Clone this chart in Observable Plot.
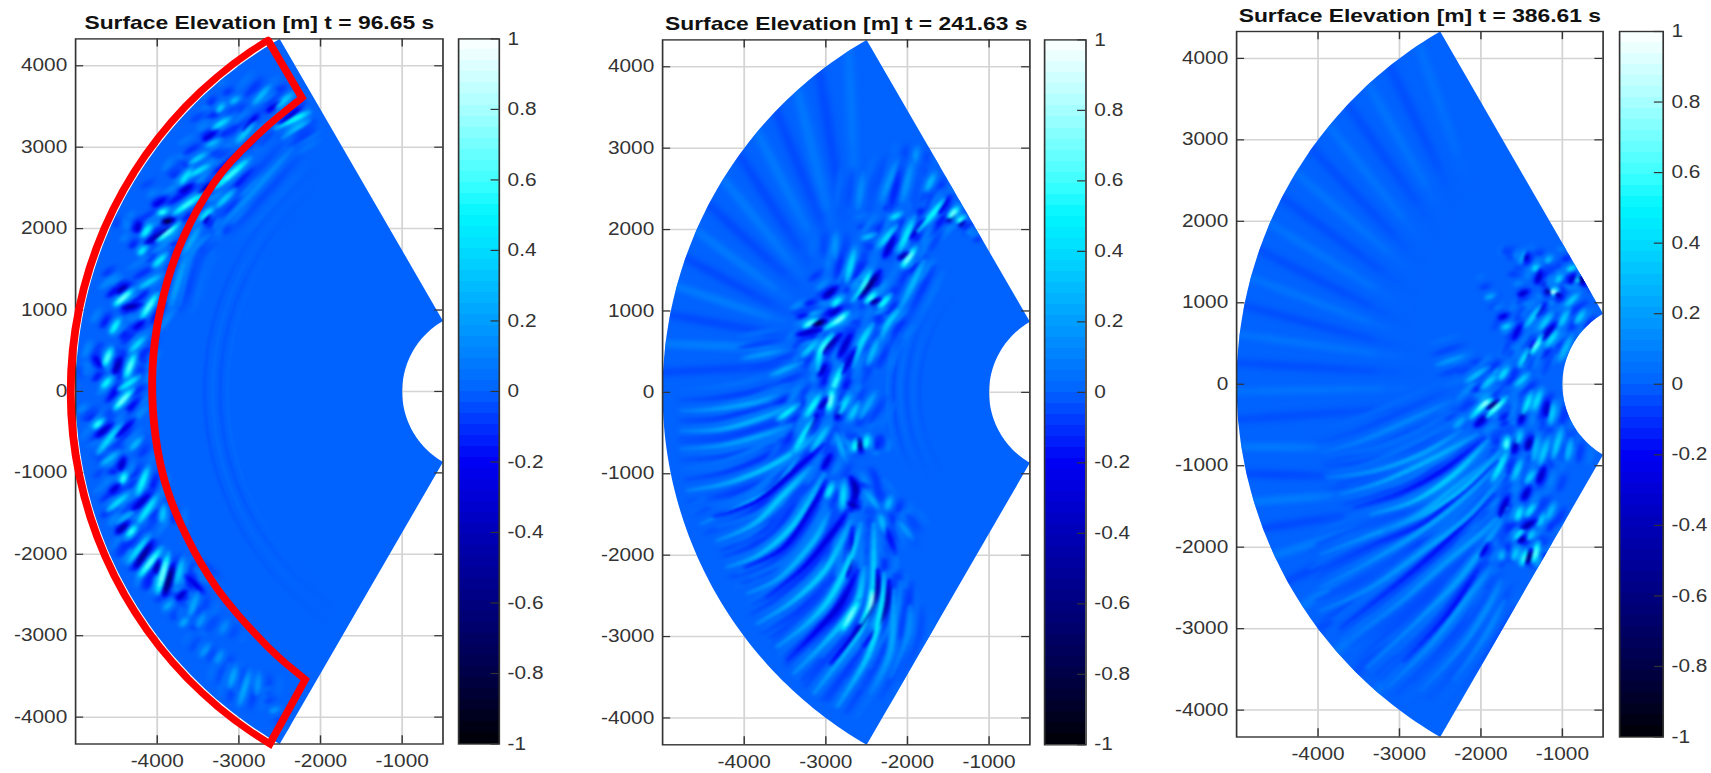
<!DOCTYPE html>
<html><head><meta charset="utf-8">
<style>html,body{margin:0;padding:0;background:#fff;overflow:hidden}#page{position:relative;width:1711px;height:773px}</style>
<script src="https://cdn.jsdelivr.net/npm/d3@7"></script>
<script src="https://cdn.jsdelivr.net/npm/@observablehq/plot@0.6"></script>
</head><body><div id="page"></div>
<script>
const titles = ["Surface Elevation [m] t = 96.65 s","Surface Elevation [m] t = 241.63 s","Surface Elevation [m] t = 386.61 s"];
const xTicks = [-4000,-3000,-2000,-1000];
const yTicks = [-4000,-3000,-2000,-1000,0,1000,2000,3000,4000];
const cbTicks = [-1,-0.8,-0.6,-0.4,-0.2,0,0.2,0.4,0.6,0.8,1];
const cmapValues = [-1,-0.8,-0.6,-0.4,-0.2,-0.1,0,0.1,0.2,0.3,0.4,0.5,0.6,0.8,1];
const cmapColors = ["#000005","#000048","#000080","#0000b8","#0000f5","#0030ff","#0062ff","#0080ff","#009eff","#00bcff","#00dcff","#00f6ff","#40ffff","#a8ffff","#ffffff"];

// each row: amplitude [m], then x,y,x,y,... along the crest or trough, in metres
const p1Crests = [
[.55,-3960,1880,-3760,2045],[.45,-4165,1925,-4080,2045],[.5,-3960,2190,-3880,2230],[.5,-3755,2210,-3470,2410],[.4,-4205,1700,-4145,1780],[.4,-4020,1555,-3900,1680],[.6,-4490,1085,-4325,1230],[.55,-4165,945,-4020,1170],[.3,-4185,1290,-3980,1415],[.45,-4550,740,-4470,880],[.55,-4635,350,-4570,515],[.55,-4370,210,-4285,435],[.45,-4655,65,-4570,170],[.35,-4305,515,-4165,660],[.4,-4430,45,-4245,170],[.4,-3695,2575,-3590,2720],[.35,-3590,2655,-3370,2780],[.3,-3570,2820,-3410,2920],[.35,-3285,3250,-3125,3350],[.3,-3245,3455,-3185,3535],[.25,-3080,3555,-3000,3615],[.3,-3000,3085,-2840,3270],[.25,-3370,3025,-3245,3085],[.25,-2795,3555,-2635,3740],[.3,-2510,3515,-2350,3655],[.45,-2552,3228,-2348,3330,-2144,3432],[.25,-2470,3106,-2307,3228,-2144,3330],[.5,-3246,2535,-2919,2820],[.4,-3450,2127,-3327,2249],[.3,-3246,2290,-3082,2453],[.12,-3246,2025,-3082,2168,-2715,2576,-2348,2984],[.2,-3654,1719,-3490,2004],[.18,-3817,1107,-3654,1637],[.1,-3735,1066,-3592,1678,-3368,1923],
[.6,-4490,-184,-4327,0],[.5,-4755,-429,-4674,-348],[.35,-4694,-716,-4470,-429],[.25,-4653,-879,-4490,-757],[.25,-4306,-695,-4204,-573],[.5,-4429,-1104,-4388,-1002],[.45,-4225,-1227,-4123,-961],[.35,-4572,-1432,-4368,-1268],[.2,-4470,-1595,-4286,-1472],[.4,-4204,-1575,-4021,-1309],[.5,-4347,-1759,-4266,-1656],[.35,-4327,-2065,-4123,-1800],[.55,-4184,-2229,-3980,-1963],[.6,-3980,-2413,-3878,-2045],[.3,-3939,-1575,-3919,-1411],[.3,-3756,-2331,-3694,-2086],[.2,-3592,-2720,-3511,-2495],[.2,-3898,-2659,-3817,-2577],[.2,-3694,-2863,-3633,-2781],[.15,-3490,-2863,-3429,-2740],[.15,-3450,-3231,-3368,-3108],[.15,-3266,-3313,-3205,-3190],[.2,-3103,-3599,-3042,-3395],[.2,-2980,-3804,-2878,-3477],[.15,-2776,-3681,-2756,-3477],[.15,-2593,-3926,-2511,-3886],[.12,-3205,-2945,-3144,-2822]];
const p1Troughs = [
[-.95,-3900,2085,-3815,2105],[-.5,-4102,1841,-3837,2025],[-.4,-4245,1984,-4225,2086],[-.5,-4388,1025,-4225,1066],[-.5,-4470,1229,-4368,1311],[-.5,-3450,2453,-3286,2576],[-.4,-3409,2086,-3368,2168],[-.3,-4021,2290,-3898,2372],[-.5,-4510,250,-4449,413],[-.35,-3409,3106,-3286,3188],[-.4,-3694,2453,-3572,2535],[-.3,-4266,780,-4164,862],[-.3,-4755,413,-4694,291],[-.3,-2919,3228,-2776,3392],[-.3,-2634,3453,-2491,3555],[-.35,-2470,3310,-2266,3473],
[-.4,-4714,-532,-4572,-409],[-.4,-4449,-941,-4408,-818],[-.6,-4245,-2127,-4082,-1881],[-.5,-4021,-2209,-3980,-2086],[-.75,-3898,-2454,-3817,-2168],[-.5,-4470,-1718,-4368,-1616],[-.35,-4551,-1227,-4470,-1145],[-.4,-3735,-2536,-3654,-2454],[-.4,-4266,-1432,-4102,-1268],[-.3,-3613,-2290,-3450,-2454],[-.3,-4470,-532,-4306,-368]];
const p2Crests = [
[.55,-3244,817,-3122,898],[.6,-3020,776,-2857,878,-2734,980],[.45,-2898,1082,-2816,1164],[.5,-2673,1123,-2551,1286,-2449,1490],[.5,-2490,1123,-2388,1225],[.45,-2326,1062,-2224,1184],[.6,-2041,1572,-1918,1755],[.35,-2734,1408,-2653,1735],[.25,-2530,1898,-2408,1939],[.35,-2326,1816,-2163,2020],[.35,-2184,2143,-2082,2204],[.4,-2082,1776,-1939,2102],[.45,-1878,1980,-1714,2163,-1551,2367],[.6,-1470,2163,-1388,2265],[.5,-1368,2102,-1306,2163],[.5,-3102,266,-3061,511,-2918,715],[.3,-3265,470,-3102,633],[.5,-2938,-20,-2816,286],[.35,-2653,307,-2571,592,-2428,837],[.3,-2326,633,-2245,837,-2082,1041],[.25,-2469,388,-2367,633],[.25,-2122,960,-1959,1286,-1796,1612],[.25,-1755,2510,-1674,2673],[.15,-1918,2836,-1878,3000],[.15,-2898,1694,-2877,1939],[.2,-3632,225,-3346,348],[.15,-3958,429,-3550,511],[.15,-2300,2400,-2150,2800],[.15,-2050,2400,-1950,2800],[.12,-2600,2300,-2550,2650],
[.18,-4775,-228,-4367,-207,-3877,-126,-3592,-24],[.22,-4775,-473,-4285,-452,-3837,-330,-3367,-146],[.4,-3551,-309,-3367,-167],[.18,-4775,-697,-4285,-656,-3796,-534,-3429,-411],[.28,-4693,-1207,-4245,-1125,-3796,-962,-3429,-758,-3102,-513],[.22,-4530,-1615,-4081,-1411,-3633,-1166,-3347,-799],[.3,-4326,-1819,-3877,-1615,-3510,-1248,-3184,-921],[.3,-4204,-2145,-3796,-1982,-3388,-1615,-3021,-1003],[.25,-3959,-2472,-3551,-2268,-3143,-1819,-2980,-1493],[.3,-3837,-2839,-3388,-2553,-2980,-2145,-2694,-1574],[.35,-3592,-3125,-3225,-2839,-2939,-2513,-2694,-2023,-2572,-1615],[.35,-3388,-3451,-3021,-3084,-2694,-2717,-2592,-2513,-2531,-2145],[.6,-2776,-2880,-2613,-2594],[.4,-3143,-3696,-2735,-3165,-2531,-2839,-2429,-2431,-2409,-1615],[.65,-2572,-2839,-2449,-2594,-2429,-2390],[.4,-2857,-3859,-2490,-3247,-2327,-2676,-2286,-2227],[.2,-2449,-3696,-2205,-3165,-2164,-2431],[.12,-2205,-3492,-2001,-3002,-1960,-2635],
[.45,-3225,-269,-3082,-44],[.6,-2959,-187,-2919,17],[.35,-2817,-228,-2715,-44],[.4,-3367,-697,-3184,-371],[.3,-3143,-677,-2980,-432],[.4,-2980,-1268,-2919,-1125],[.35,-2796,-1391,-2776,-1125],[.45,-2653,-697,-2633,-595],[.45,-2511,-656,-2490,-534],[.3,-2694,-309,-2613,-146],[.2,-2551,-269,-2409,-24],[.25,-2327,-1533,-2286,-1697],[.25,-2245,-1411,-2205,-1289],[.2,-2490,-1248,-2368,-1411],[.15,-2082,-1615,-1960,-1778],[.2,-2857,-554,-2775,-799]];
const p2Troughs = [
[-.9,-3122,837,-3020,878],[-.7,-2551,1204,-2367,1449],[-.6,-2428,1102,-2347,1143],[-.4,-2938,960,-2816,1041],[-.5,-2082,1653,-2000,1714],[-.6,-1490,2122,-1429,2204],[-.5,-1347,2061,-1306,2102],[-.5,-3000,1184,-2877,1286],[-.4,-2265,1694,-2163,1918],[-.5,-3020,470,-2979,551,-2816,715],[-.4,-3306,715,-3061,776],[-.4,-2816,470,-2694,715],[-.35,-2775,266,-2653,511],[-.35,-1939,1918,-1816,2102],[-.3,-1592,2224,-1490,2388],[-.4,-3061,225,-3000,348],[-.15,-2200,2300,-2100,2700],
[-.35,-3469,-3288,-3102,-2921,-2817,-2594,-2613,-2186],[-.55,-2939,-3329,-2613,-2921,-2388,-2513,-2368,-2186],[-.5,-2531,-3125,-2286,-2717,-2225,-2309],[-.3,-3714,-2513,-3265,-2145,-2898,-1697,-2735,-1452],[-.3,-3980,-2145,-3510,-1901,-3143,-1370,-3000,-1085],[-.3,-4367,-1533,-3837,-1329,-3388,-962,-3021,-636],[-.5,-2694,-1452,-2633,-1207,-2694,-1044],[-.4,-3061,-187,-2980,-65],[-.4,-2857,-309,-2817,-187],[-.4,-2674,-1656,-2694,-2023,-2735,-2268],[-.6,-2592,-595,-2572,-717],[-.4,-3245,-513,-3102,-269],[-.35,-3021,-921,-2939,-758],[-.5,-2694,-1370,-2613,-1411],[-.2,-2245,-1697,-2164,-1941]];
const p3Crests = [
[.65,-2122,-410,-1959,-246,-1877,-185],[.55,-1898,-369,-1713,-185],[.2,-2307,-512,-2204,-410],[.1,-3963,-839,-3472,-696,-2900,-451,-2368,-205],[.18,-3881,-1146,-3309,-1064,-2736,-860,-2245,-574],[.22,-3718,-1351,-3186,-1187,-2572,-901,-2041,-614],[.3,-3350,-1596,-2818,-1432,-2327,-1105,-1918,-696],[.25,-3186,-1800,-2695,-1596,-2204,-1269,-1713,-778],[.2,-3963,-2087,-3431,-1882,-2818,-1637,-2327,-1269,-1836,-901],[.18,-3963,-2496,-3350,-2169,-2736,-1801,-2204,-1392,-1795,-983],[.18,-3963,-2782,-3350,-2496,-2654,-2005,-2122,-1596,-1713,-1105],[.16,-3636,-3150,-3022,-2700,-2409,-2169,-1959,-1800,-1673,-1514],[.18,-3390,-3477,-2777,-2905,-2286,-2414,-1918,-1923,-1713,-1596],[.15,-3145,-3723,-2613,-3191,-2163,-2619,-1877,-2250],[.12,-2736,-3764,-2245,-3232,-1918,-2741,-1754,-2414],[.1,-2327,-3641,-1959,-3109,-1713,-2659],
[.5,-1488,-2189,-1448,-2046],[.55,-1345,-2148,-1304,-1964],[.3,-1591,-2128,-1550,-2005],[.3,-1407,-1882,-1345,-1800],[.4,-1550,-1637,-1509,-1514],[.35,-1427,-1596,-1345,-1473],[.3,-1284,-1719,-1223,-1596],[.35,-1570,-1882,-1468,-1760],[.25,-1754,-2128,-1734,-2046],[.25,-1182,-1637,-1100,-1473],[.3,-1427,-1187,-1345,-1064],[.55,-1693,-778,-1673,-655],[.4,-1836,-1146,-1693,-860],[.3,-1550,-696,-1509,-574],[.4,-1468,-328,-1386,-124],[.35,-1345,-287,-1264,-83],[.3,-1141,-451,-1100,-246],[.3,-1264,-942,-1182,-696],[.3,-1100,-860,-1018,-574],[.25,-1345,-901,-1304,-655],[.3,-1591,-1146,-1509,-942],[.25,-936,-901,-895,-696],
[.55,-1366,408,-1264,572],[.35,-1182,490,-1059,653],[.35,-1509,244,-1427,408],[.35,-1754,81,-1673,204],[.3,-1714,694,-1632,735],[.3,-1427,735,-1284,940],[.3,-1264,694,-1141,858],[.3,-1018,735,-936,899],[.75,-1120,1124,-1079,1165],[.35,-1345,1410,-1304,1472],[.3,-936,981,-814,1103],[.35,-814,1267,-773,1349],[.3,-1059,1267,-1018,1349],[.35,-916,1410,-834,1451],[.2,-1918,1063,-1836,1103],[.2,-1509,1512,-1468,1635],[.25,-1182,1512,-1141,1574],[.3,-1550,0,-1427,122],[.25,-1018,326,-895,572],[.3,-814,776,-732,899],[.3,-1877,40,-1795,163],[.3,-1960,-30,-1830,110],[.25,-2150,50,-1950,190],[.15,-2500,250,-2200,350]];
const p3Troughs = [
[-.7,-1898,-287,-1795,-205],[-.4,-2041,-492,-1918,-369],[-.7,-1427,-2169,-1386,-2046],[-.5,-1509,-1923,-1460,-1874],[-.4,-1284,-1187,-1223,-1023],[-.5,-1468,-1760,-1345,-1678],[-.4,-1509,-451,-1427,-205],[-.4,-1591,-819,-1550,-655],[-.5,-1427,-778,-1386,-655],[-.4,-1202,-369,-1182,-205],[-.4,-1754,-1596,-1673,-1391],[-.3,-1990,-2087,-1918,-1964],[-.4,-1468,-1391,-1407,-1269],[-.2,-3554,-1514,-2981,-1330,-2450,-1044,-1959,-655],[-.15,-3963,-2291,-3309,-1964,-2736,-1719,-2204,-1310,-1795,-942],[-.2,-3718,-2987,-2981,-2414,-2327,-1841,-1836,-1351],[-.2,-2941,-3395,-2409,-2823,-2000,-2209],
[-.6,-1182,1144,-1161,1103],[-.5,-1059,1103,-1018,1063],[-.4,-1304,1267,-1264,1390],[-.6,-773,1308,-732,1226],[-.4,-1448,1533,-1427,1594],[-.4,-1509,1103,-1427,1144],[-.4,-1223,572,-1100,735],[-.35,-1468,285,-1345,531],[-.3,-1754,817,-1673,858],[-.4,-895,1267,-855,1349],[-.35,-1304,858,-1223,981],[-.3,-1591,572,-1509,735]];
// faint bands running from the rim toward the wave packet: amplitude, rim x,y, inner x,y
const p1Bands = [];
const p2Bands = [[.07,-2712,4021,-2650,2600],[-.05,-3052,3769,-2800,2200],[.08,-3308,3547,-2950,2100],[-.05,-3547,3308,-3000,1950],[.08,-3769,3052,-3150,1850],[-.05,-3973,2782,-3250,1650],[.08,-4157,2498,-3350,1500],[-.05,-4321,2202,-3400,1350],[.08,-4464,1895,-3500,1180],[-.05,-4586,1579,-3550,1020],[.09,-4685,1255,-3550,880],[-.05,-4761,925,-3500,700],[.1,-4814,591,-3500,540],[-.05,-4843,254,-3400,330]];
const p3Bands = [[.05,-2712,4021,-2250,2700],[-.04,-3052,3769,-2450,2500],[.06,-3308,3547,-2600,2300],[-.04,-3547,3308,-2700,2100],[.06,-3769,3052,-2850,1900],[-.04,-3973,2782,-2950,1700],[.06,-4157,2498,-3000,1500],[-.04,-4321,2202,-3100,1300],[.06,-4464,1895,-3150,1080],[-.04,-4586,1579,-3200,880],[.06,-4685,1255,-3200,700],[-.04,-4761,925,-3150,500],[.06,-4814,591,-3100,350],[-.04,-4843,254,-3100,150],[.06,-4849,-85,-3000,-50],[-.04,-4831,-423,-3100,-300],
[.08,-4840,-767,-3900,-780],[-.05,-4775,-1102,-3800,-1130],[.09,-4686,-1433,-3700,-1360],[-.05,-4575,-1755,-3600,-1600],[.09,-4440,-2071,-3500,-1780],[-.05,-4285,-2376,-3400,-1950],[.09,-4110,-2668,-3300,-2100],[-.05,-3914,-2948,-3200,-2350],[.08,-3700,-3213,-3100,-2620],[-.04,-3465,-3465,-2900,-2800],[.07,-3215,-3700,-2750,-3050]];
// thin concentric ripples: radius, bearing from, bearing to, amplitude
const p1Ripples = [[3140,-50,45,.03],[3230,-55,50,-.03],[3320,-55,55,.04],[3420,-55,55,-.03]];
const p2Ripples = [[2250,-25,30,.06],[2170,-25,30,-.05],[2090,-25,35,.05],[2010,-30,35,-.03],[1930,-30,38,.03],[1850,-30,40,-.02]];
const p3Ripples = [[1350,-48,-30,.08],[1270,-48,-28,-.06],[1190,-48,-26,.08],[1110,-48,-24,-.05]];
// red outline drawn on the first panel
const redOuterRadius = 5060, redOuterFrom = 58.5, redOuterTo = -58.8;
const redInner = [-2187,-3538,-2655,-3127,-3260,-2430,-3705,-1645,-3960,-900,-4061,-41,-4000,806,-3755,1714,-3307,2560,-2760,3160,-2227,3607];

const stretch = 1.19;
const panels = [
 {left:75.3, right:442.7, top:38.4, bottom:743.5, cb:[458.3,499], crests:p1Crests, troughs:p1Troughs, bands:p1Bands, ripples:p1Ripples, red:true},
 {left:662, right:1029.3, top:39.4, bottom:744.3, cb:[1044.3,1085.7], crests:p2Crests, troughs:p2Troughs, bands:p2Bands, ripples:p2Ripples},
 {left:1235.5, right:1602, top:31, bottom:736.5, cb:[1619.4,1663], crests:p3Crests, troughs:p3Troughs, bands:p3Bands, ripples:p3Ripples}
];
const rad = d => d*Math.PI/180;
const polar = (r,a) => [-r*Math.cos(rad(a)), r*Math.sin(rad(a))];
const colorOpt = {type:"linear", domain:cmapValues, range:cmapColors, interpolate:"rgb", clamp:true};
const ink = "#333";
const font = {fontFamily:"Liberation Sans, Arial, sans-serif",fontSize:"17.5px",background:"transparent",overflow:"visible"};
const page = document.getElementById("page");

function place(svg, x0, x1){
  svg.setAttribute("preserveAspectRatio","none");
  svg.setAttribute("width", x1-x0); svg.setAttribute("height",773);
  Object.assign(svg.style,{position:"absolute",left:x0+"px",top:"0px",width:(x1-x0)+"px",height:"773px",maxWidth:"none",background:"transparent",overflow:"visible"});
  page.appendChild(svg);
}
// smooth a row's vertices (Catmull-Rom) so a crest can be painted as a tapered stroke
function smooth(flat, perSpan){
  let P=[]; for(let k=0;k<flat.length;k+=2)P.push([flat[k],flat[k+1]]);
  if(P.length===2){ // short blob: run a little past both read ends
    const [a,b]=P, dx=(b[0]-a[0])*.18, dy=(b[1]-a[1])*.18;
    P=[[a[0]-dx,a[1]-dy],[b[0]+dx,b[1]+dy]];
  }
  const out=[];
  for(let i=0;i<P.length-1;i++){
    const p0=P[Math.max(i-1,0)],p1=P[i],p2=P[i+1],p3=P[Math.min(i+2,P.length-1)];
    for(let s=0;s<perSpan;s++){
      const t=s/perSpan,t2=t*t,t3=t2*t;
      out.push([0,1].map(c=>.5*(2*p1[c]+(p2[c]-p0[c])*t+(2*p0[c]-5*p1[c]+4*p2[c]-p3[c])*t2+(3*p1[c]-p0[c]-3*p2[c]+p3[c])*t3)));
    }
  }
  out.push(P[P.length-1]);
  return out;
}
function taper(t,isLong){
  return isLong ? .3+.7*Math.pow(Math.sin(Math.PI*Math.pow(t,1.5)),.8) : Math.pow(Math.sin(Math.PI*t),.7);
}
// paint a row as short links whose amplitude and width swell toward the middle
function segments(row, offset, gain, isBand){
  const isLong=row.length>5, pts=smooth(row.slice(1),isLong?7:8), n=pts.length-1, out=[];
  const shift=pts.map((p,i)=>{
    const a=pts[Math.max(i-1,0)],b=pts[Math.min(i+1,n)];
    const dx=b[0]-a[0],dy=b[1]-a[1],L=Math.hypot(dx,dy)||1;
    return [p[0]-dy/L*offset,p[1]+dx/L*offset];
  });
  for(let i=0;i<n;i++){
    const t=(i+.5)/n,e=isBand?Math.pow(Math.sin(Math.PI*Math.min(1,t*.6+.25)),1)*Math.min(1,(1-t)*3):taper(t,isLong);
    out.push({x1:shift[i][0],y1:shift[i][1],x2:shift[i+1][0],y2:shift[i+1][1],a:row[0]*gain*e,e});
  }
  return out;
}
const tone = r => [r[0]>0 ? r[0]*1.15 : r[0]*.85, ...r.slice(1)];
panels.forEach((p,n)=>{
  const leftPad=70, x0=p.left-leftPad, x1=p.right+6;
  const fan=[...d3.range(-60,60.5,1).map(a=>polar(5000,a)),...d3.range(60,-60.5,-1).map(a=>polar(1000,a))].map(([x,y])=>({x,y}));
  const bands=p.bands.flatMap(r=>segments(r,0,1,true));
  const ripples=p.ripples.flatMap(d=>{
    const pts=d3.range(d[1],d[2]+1,3).map(a=>polar(d[0],a));
    return d3.pairs(pts).map(([a,b],i)=>({x1:a[0],y1:a[1],x2:b[0],y2:b[1],a:d[3]*Math.sin(Math.PI*(i+.5)/(pts.length-1))}));
  });
  const all=[...p.crests,...p.troughs].map(tone);
  // each read crest carries its neighbouring trough and faint next crest on both sides
  const lobes=all.filter(r=>Math.abs(r[0])>=.1).flatMap(r=>[
    ...segments(r,270,.2),...segments(r,-270,.2),
    ...segments(r,135,-.3),...segments(r,-135,-.3)]);
  const core=all.slice().sort((a,b)=>Math.abs(a[0])-Math.abs(b[0])).flatMap(r=>segments(r,0,1));
  const layer=(data,width,blur,gain=1)=>Plot.link(data,{x1:"x1",y1:"y1",x2:"x2",y2:"y2",stroke:d=>d.a*gain,strokeWidth:d=>width*(.45+.55*(d.e??1)),strokeLinecap:"round",imageFilter:`blur(${blur}px)`});
  const marks=[
    Plot.gridX(xTicks,{stroke:"#d4d4d4",strokeOpacity:1,strokeWidth:1.5}),
    Plot.gridY(yTicks,{stroke:"#d4d4d4",strokeOpacity:1,strokeWidth:1.5}),
    Plot.line(fan,{x:"x",y:"y",fill:()=>0,stroke:"none"}),
    layer(bands,8,2.6),
    layer(ripples,2,.8),
    layer(lobes,5.5,1.6),
    layer(core,7.5,2,.55),
    layer(core,3.8,1.3),
    Plot.frame({stroke:ink,strokeWidth:1.4}),
    Plot.ruleY(yTicks,{x1:-5000,x2:-4900,stroke:ink,strokeWidth:1.2}),
    Plot.ruleY(yTicks,{x1:-500,x2:-600,stroke:ink,strokeWidth:1.2}),
    Plot.ruleX(xTicks,{y1:-4330,y2:-4230,stroke:ink,strokeWidth:1.2}),
    Plot.ruleX(xTicks,{y1:4330,y2:4230,stroke:ink,strokeWidth:1.2}),
    Plot.axisX(xTicks,{anchor:"bottom",label:null,tickSize:0,tickPadding:11,tickFormat:d=>String(d),color:ink}),
    Plot.axisY(yTicks,{anchor:"left",label:null,tickSize:0,tickPadding:7,tickFormat:d=>String(d),color:ink}),
    Plot.text([titles[n]],{frameAnchor:"top",dy:-16,lineAnchor:"middle",fontWeight:"bold",fontSize:19.2,fill:"#111"})
  ];
  if(p.red){
    const outer=d3.range(redOuterFrom,redOuterTo-.1,-(redOuterFrom-redOuterTo)/40).map(a=>polar(redOuterRadius,a));
    const red=[...outer,...smooth(redInner,5),outer[0]].map(([x,y])=>({x,y}));
    marks.push(Plot.line(red,{x:"x",y:"y",stroke:"#ff0000",strokeWidth:6.6,strokeLinejoin:"miter",strokeMiterlimit:8}));
  }
  const svg=Plot.plot({
    width:(x1-x0)/stretch, height:773,
    marginLeft:leftPad/stretch, marginRight:6/stretch, marginTop:p.top, marginBottom:773-p.bottom,
    x:{domain:[-5000,-500],axis:null}, y:{domain:[-4330,4330],axis:null}, color:colorOpt,
    style:font, marks
  });
  place(svg,x0,x1);
  // the waves stay inside the fan, as in a pcolor of the domain
  const ns="http://www.w3.org/2000/svg";
  const fanG=svg.querySelector('g[aria-label="line"]');
  const cp=document.createElementNS(ns,"clipPath"); cp.setAttribute("id","fanclip"+n);
  const shape=fanG.querySelector("path").cloneNode(false);
  const tr=fanG.getAttribute("transform"); if(tr) shape.setAttribute("transform",tr);
  cp.appendChild(shape); svg.appendChild(cp);
  svg.querySelectorAll('g[aria-label="link"]').forEach(g=>{
    const wrap=document.createElementNS(ns,"g"); wrap.setAttribute("clip-path","url(#fanclip"+n+")");
    g.parentNode.insertBefore(wrap,g); wrap.appendChild(g);
  });

  // colour bar
  const cbw=p.cb[1]-p.cb[0], cbRight=60;
  const levels=d3.range(0,64).map(i=>-1+i*2/64);
  const cb=Plot.plot({
    width:(cbw+cbRight)/stretch, height:773,
    marginLeft:0, marginRight:cbRight/stretch, marginTop:p.top, marginBottom:773-p.bottom,
    x:{domain:[0,1],axis:null}, y:{domain:[-1,1],axis:null}, color:colorOpt,
    style:font,
    marks:[
      Plot.rect(levels,{x1:0,x2:1,y1:d=>d,y2:d=>d+2/64,fill:d=>d+1/64,shapeRendering:"crispEdges"}),
      Plot.frame({stroke:ink,strokeWidth:1.4}),
      Plot.ruleY(cbTicks,{x1:1,x2:.8,stroke:ink,strokeWidth:1.2}),
      Plot.axisY(cbTicks,{anchor:"right",label:null,tickSize:0,tickPadding:7,tickFormat:d=>String(d),color:ink})
    ]
  });
  place(cb,p.cb[0],p.cb[1]+cbRight);
});
</script></body></html>
